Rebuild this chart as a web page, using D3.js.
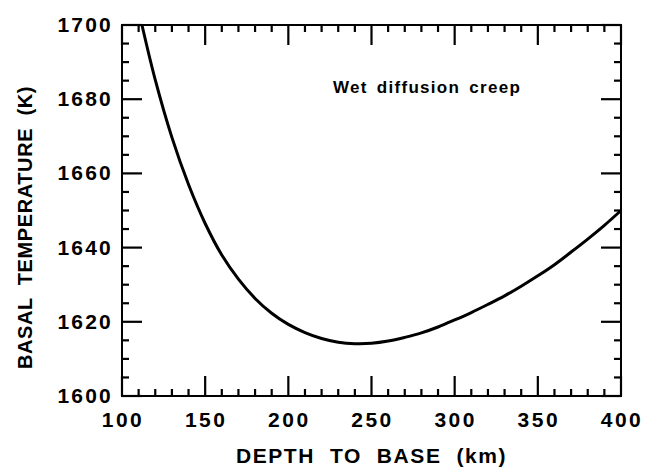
<!DOCTYPE html>
<html><head><meta charset="utf-8">
<script src="https://cdn.jsdelivr.net/npm/d3@7"></script>
<style>body{margin:0;background:#fff}text{font-family:"Liberation Sans",Arial,sans-serif;fill:#000}</style>
</head><body>
<svg id="c" width="656" height="468"></svg>
<script>
const depth = [112,120,130,140,150,160,170,180,190,200,210,220,230,240,250,260,270,280,290,300,310,320,330,340,350,360,370,380,390,400];
const temp  = [1700,1685.2,1669.7,1657,1646.5,1638,1631.5,1626.3,1622.3,1619.3,1617.1,1615.5,1614.5,1614.1,1614.2,1614.8,1615.8,1617,1618.6,1620.5,1622.5,1624.7,1627,1629.6,1632.4,1635.4,1638.8,1642.3,1646,1650];
const xTicks = [100,150,200,250,300,350,400];
const yTicks = [1600,1620,1640,1660,1680,1700];
const xLabel = "DEPTH  TO  BASE  (km)";
const yLabel = "BASAL  TEMPERATURE  (K)";
const note = "Wet diffusion creep";

const L=122,R=621,T=25,B=396;
const svg=d3.select("#c");
const x=d3.scaleLinear().domain([100,400]).range([L,R]);
const y=d3.scaleLinear().domain([1600,1700]).range([B,T]);

svg.append("rect").attr("x",L).attr("y",T).attr("width",R-L).attr("height",B-T).attr("fill","none").attr("stroke","#000").attr("stroke-width",2);

svg.selectAll(".xl").data(xTicks).enter().append("text").attr("x",d=>x(d)+1).attr("y",B+31)
 .attr("text-anchor","middle").attr("font-size",21).attr("font-weight","bold").attr("letter-spacing",2.5).text(d=>d);
svg.selectAll(".yl").data(yTicks).enter().append("text").attr("x",L-9).attr("y",d=>y(d)+7)
 .attr("text-anchor","end").attr("font-size",21).attr("font-weight","bold").attr("letter-spacing",2.2).text(d=>d);

svg.append("text").attr("x",(L+R)/2).attr("y",463).attr("text-anchor","middle").attr("font-size",21).attr("font-weight","bold").attr("letter-spacing",1.6).attr("style","white-space:pre").text(xLabel);
svg.append("text").attr("transform",`translate(32,${(T+B)/2+17}) rotate(-90)`).attr("text-anchor","middle").attr("font-size",20).attr("font-weight","bold").attr("letter-spacing",0.6).attr("style","white-space:pre").text(yLabel);

svg.append("text").attr("x",333).attr("y",93).attr("font-size",17).attr("font-weight","bold").attr("letter-spacing",1.3).attr("word-spacing",3).text(note);

const line=d3.line().x((d,i)=>x(depth[i])).y(d=>y(d)).curve(d3.curveCatmullRom);
svg.append("path").datum(temp).attr("d",line).attr("fill","none").attr("stroke","#000").attr("stroke-width",3);

const minX=d3.range(110,400,10).filter(d=>d%50!==0), minY=d3.range(1605,1700,5).filter(d=>d%20!==0);
const tg=svg.append("g").attr("stroke","#000").attr("stroke-width",2.2).attr("stroke-linecap","butt");
const segs=[];
minX.forEach(d=>{segs.push([x(d),B,x(d),B-7]);segs.push([x(d),T,x(d),T+7]);});
xTicks.forEach(d=>{segs.push([x(d),B,x(d),B-20]);segs.push([x(d),T,x(d),T+20]);});
minY.forEach(d=>{segs.push([L,y(d),L+7,y(d)]);segs.push([R,y(d),R-7,y(d)]);});
yTicks.forEach(d=>{segs.push([L,y(d),L+20,y(d)]);segs.push([R,y(d),R-20,y(d)]);});
tg.selectAll("line").data(segs).join("line").attr("x1",s=>s[0]).attr("y1",s=>s[1]).attr("x2",s=>s[2]).attr("y2",s=>s[3]);
</script>
</body></html>
